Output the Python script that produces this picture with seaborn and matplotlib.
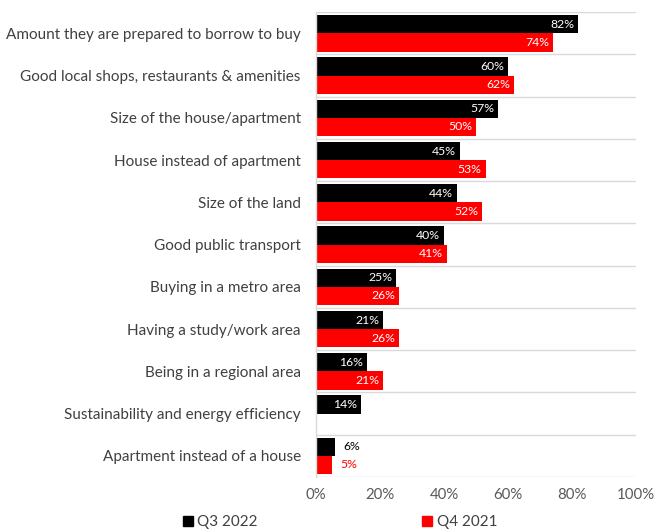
import numpy as np
import pandas as pd
import seaborn as sns
import matplotlib.pyplot as plt
from matplotlib.lines import Line2D

categories = [
    "Amount they are prepared to borrow to buy",
    "Good local shops, restaurants & amenities",
    "Size of the house/apartment",
    "House instead of apartment",
    "Size of the land",
    "Good public transport",
    "Buying in a metro area",
    "Having a study/work area",
    "Being in a regional area",
    "Sustainability and energy efficiency",
    "Apartment instead of a house",
]
q3_2022 = [82, 60, 57, 45, 44, 40, 25, 21, 16, 14, 6]
q4_2021 = [74, 62, 50, 53, 52, 41, 26, 26, 21, np.nan, 5]
series = ["Q3 2022", "Q4 2021"]
colors = ["#000000", "#ff0000"]
xticks = [0, 20, 40, 60, 80, 100]

df = pd.DataFrame({
    "factor": categories * 2,
    "value": q3_2022 + q4_2021,
    "period": [series[0]] * len(categories) + [series[1]] * len(categories),
})

sns.set_theme(style="white")
plt.rcParams["font.family"] = ["Lato", "DejaVu Sans"]

fig = plt.figure(figsize=(6.59, 5.32), dpi=100)
ax = fig.add_axes([0.4795, 0.1034, 0.4855, 0.8736])

sns.barplot(data=df, x="value", y="factor", hue="period", order=categories,
            hue_order=series, palette=colors, saturation=1, orient="h",
            width=0.86, edgecolor="none", legend=False, ax=ax)

ax.set_xlim(0, 100)
ax.set_ylim(len(categories) - 0.5, -0.5)
ax.set_xticks(xticks)
ax.set_xticklabels([f"{t}%" for t in xticks], color="#595959", fontsize=10.8)
ax.tick_params(axis="y", labelsize=11, labelcolor="#404040", length=0, pad=11)
ax.tick_params(axis="x", length=0, pad=8)
ax.set_xlabel("")
ax.set_ylabel("")

for s in ["top", "right", "bottom"]:
    ax.spines[s].set_visible(False)
ax.spines["left"].set_color("#d9d9d9")
ax.spines["left"].set_linewidth(1)

for b in np.arange(-0.5, len(categories), 1.0):
    ax.axhline(b, color="#d9d9d9", lw=1, zorder=0)

# value labels: white inside long bars, coloured outside short ones
for container, col in zip(ax.containers, colors):
    for patch in container:
        w = patch.get_width()
        if not np.isfinite(w) or w == 0:
            continue
        yc = patch.get_y() + patch.get_height() / 2
        if w >= 10:
            ax.text(w - 1.2, yc, f"{w:.0f}%", ha="right", va="center",
                    color="white", fontsize=8.8)
        else:
            ax.text(w + 2.5, yc, f"{w:.0f}%", ha="left", va="center",
                    color=col, fontsize=8.8)

handles = [Line2D([], [], marker="s", linestyle="none", markersize=7,
                  markerfacecolor=c, markeredgecolor=c) for c in colors]
fig.legend(handles, series, loc="center left", ncol=2,
           bbox_to_anchor=(176 / 659, 1 - 522 / 532), frameon=False,
           fontsize=11, handlelength=0.6, handletextpad=0.3,
           columnspacing=10.8, labelcolor="#404040", borderpad=0)

fig.savefig("out.png", dpi=100)
